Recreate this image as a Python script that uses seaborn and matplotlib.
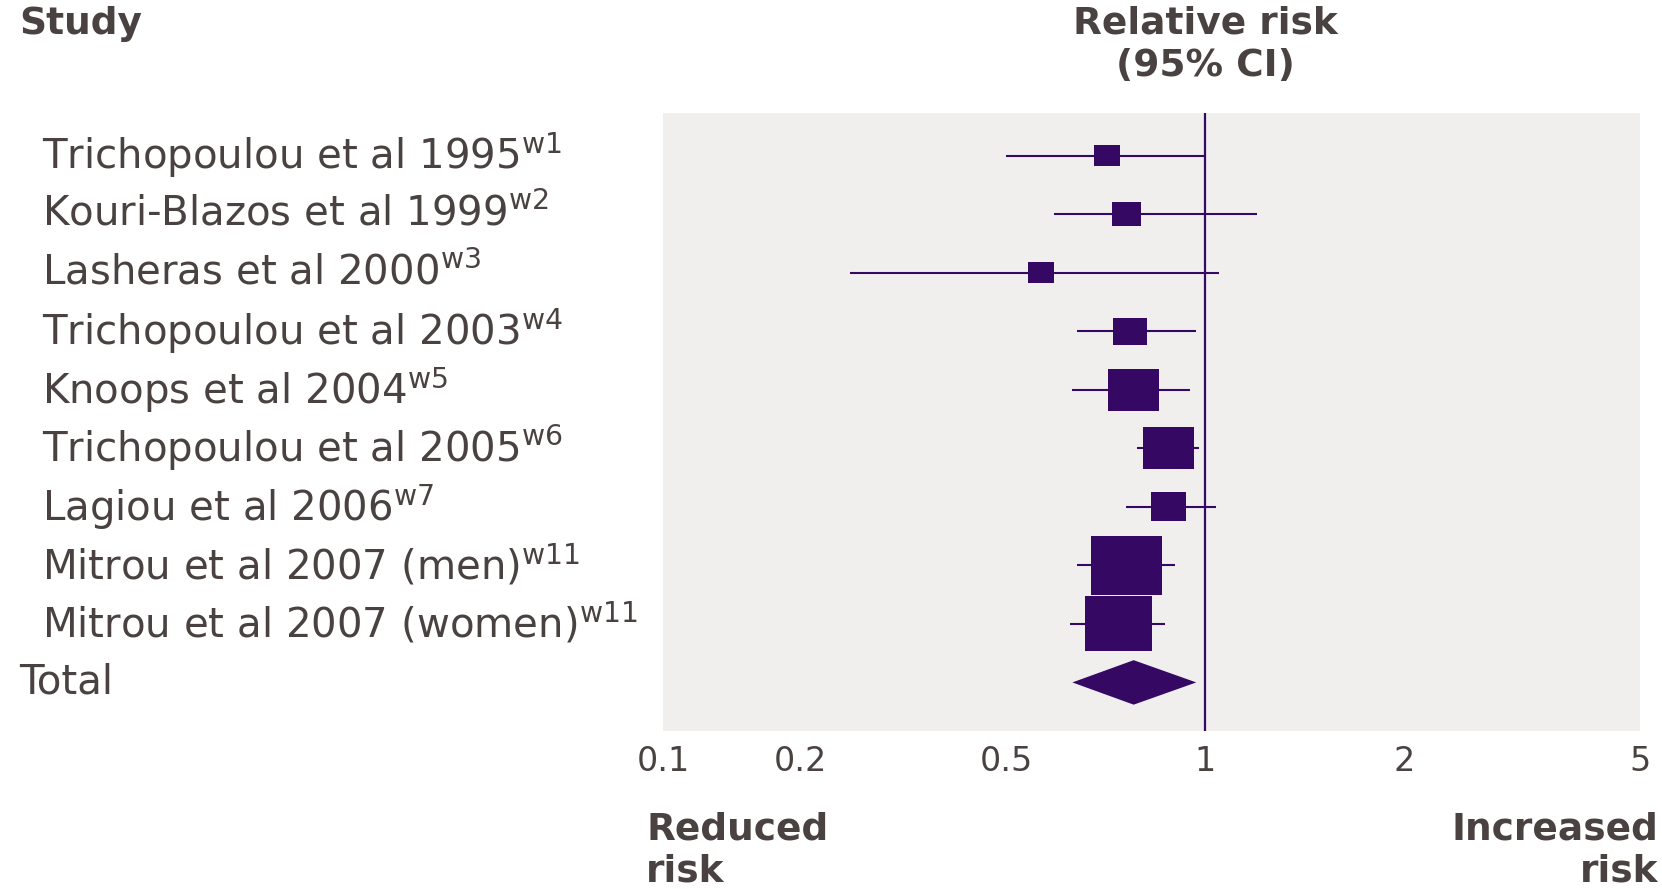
import numpy as np
import matplotlib
matplotlib.use("Agg")
import matplotlib.pyplot as plt
from matplotlib.path import Path
from matplotlib.transforms import blended_transform_factory
import seaborn as sns

# ---------------- data ----------------
studies = [
    "Trichopoulou et al 1995",
    "Kouri-Blazos et al 1999",
    "Lasheras et al 2000",
    "Trichopoulou et al 2003",
    "Knoops et al 2004",
    "Trichopoulou et al 2005",
    "Lagiou et al 2006",
    "Mitrou et al 2007 (men)",
    "Mitrou et al 2007 (women)",
]
refs = ["w1", "w2", "w3", "w4", "w5", "w6", "w7", "w11", "w11"]
rr = [0.71, 0.76, 0.565, 0.77, 0.78, 0.88, 0.88, 0.76, 0.74]
ci_low = [0.50, 0.59, 0.25, 0.64, 0.63, 0.79, 0.76, 0.64, 0.625]
ci_high = [1.00, 1.20, 1.05, 0.97, 0.95, 0.98, 1.04, 0.90, 0.87]
weights = [3.5, 4.4, 3.5, 5.7, 13.5, 13.5, 6.4, 26.2, 23.3]
total_label = "Total"
total_rr = 0.78
total_low = 0.63
total_high = 0.97
tick_values = [0.1, 0.2, 0.5, 1, 2, 5]
tick_labels = ["0.1", "0.2", "0.5", "1", "2", "5"]

# ---------------- layout / style ----------------
W, H = 1662, 889
AXIS_PX = [0, 137, 343, 542, 741, 977]   # drawn geometry of the (uneven) log axis
PURPLE = "#340863"
PANEL = "#f0efee"
TEXT = "#4a4241"
FONT = "DejaVu Sans"
FS = 29        # study labels
FSB = 27       # bold headers
FST = 24       # tick labels

sns.set_theme(style="white")
plt.rcParams["font.family"] = [FONT]
plt.rcParams["mathtext.fontset"] = "dejavusans"

_logt = np.log10(tick_values)


def fwd(x):
    x = np.clip(np.asarray(x, dtype=float), 1e-9, None)
    return np.interp(np.log10(x), _logt, AXIS_PX)


def inv(p):
    return 10 ** np.interp(np.asarray(p, dtype=float), AXIS_PX, _logt)


fig = plt.figure(figsize=(W / 100, H / 100), dpi=100)
fig.patch.set_facecolor("white")
ax = fig.add_axes([663 / W, 1 - 731 / H, 977 / W, 618 / H])
ax.set_facecolor(PANEL)
for s in ax.spines.values():
    s.set_visible(False)

ax.set_xscale("function", functions=(fwd, inv))
ax.set_xlim(tick_values[0], tick_values[-1])
n = len(studies)
ypos = np.arange(n)
ax.set_ylim(n + 0.83, -0.73)

# reference line at RR = 1
ax.axvline(1, color=PURPLE, lw=1.6, zorder=4)

# confidence intervals
ax.hlines(ypos, ci_low, ci_high, color=PURPLE, lw=1.5, zorder=3)

# weighted boxes (slightly wide rectangles)
box = Path([(-0.61, -0.5), (0.61, -0.5), (0.61, 0.5), (-0.61, 0.5), (-0.61, -0.5)],
           [Path.MOVETO, Path.LINETO, Path.LINETO, Path.LINETO, Path.CLOSEPOLY])
sns.scatterplot(x=rr, y=ypos, size=weights,
                sizes=(100 * min(weights), 100 * max(weights)),
                marker=box, color=PURPLE, linewidth=0, legend=False,
                ax=ax, zorder=5)

# pooled diamond
h = 0.38
ax.fill([total_low, total_rr, total_high, total_rr],
        [n, n - h, n, n + h], color=PURPLE, lw=0, zorder=5)

# x ticks
ax.set_xticks(tick_values)
ax.set_xticklabels(tick_labels)
ax.xaxis.set_minor_locator(matplotlib.ticker.NullLocator())
ax.tick_params(axis="x", direction="in", length=11, width=3, color="white",
               pad=10, labelsize=FST, labelcolor=TEXT)
ax.set_yticks([])
ax.set_xlabel("")
ax.set_ylabel("")

# study labels
tr = blended_transform_factory(fig.transFigure, ax.transData)
for i, (s, r) in enumerate(zip(studies, refs)):
    ax.text(42 / W, i, s + r"$^{\mathrm{" + r + "}}$", transform=tr,
            ha="left", va="center", fontsize=FS, color=TEXT)
ax.text(19 / W, n, total_label, transform=tr, ha="left", va="center",
        fontsize=FS, color=TEXT)

# headers
fig.text(19 / W, 1 - 24 / H, "Study", ha="left", va="center",
         fontsize=FSB, fontweight="bold", color=TEXT)
trh = blended_transform_factory(ax.transData, fig.transFigure)
ax.text(1, 1 - 24 / H, "Relative risk", transform=trh, ha="center",
        va="center", fontsize=FSB, fontweight="bold", color=TEXT)
ax.text(1, 1 - 66 / H, "(95% CI)", transform=trh, ha="center",
        va="center", fontsize=FSB, fontweight="bold", color=TEXT)

# bottom annotations
fig.text(646 / W, 1 - 830 / H, "Reduced", ha="left", va="center",
         fontsize=FSB, fontweight="bold", color=TEXT)
fig.text(646 / W, 1 - 872 / H, "risk", ha="left", va="center",
         fontsize=FSB, fontweight="bold", color=TEXT)
fig.text(1658 / W, 1 - 830 / H, "Increased", ha="right", va="center",
         fontsize=FSB, fontweight="bold", color=TEXT)
fig.text(1658 / W, 1 - 872 / H, "risk", ha="right", va="center",
         fontsize=FSB, fontweight="bold", color=TEXT)

fig.savefig("out.png", dpi=100, facecolor="white")
